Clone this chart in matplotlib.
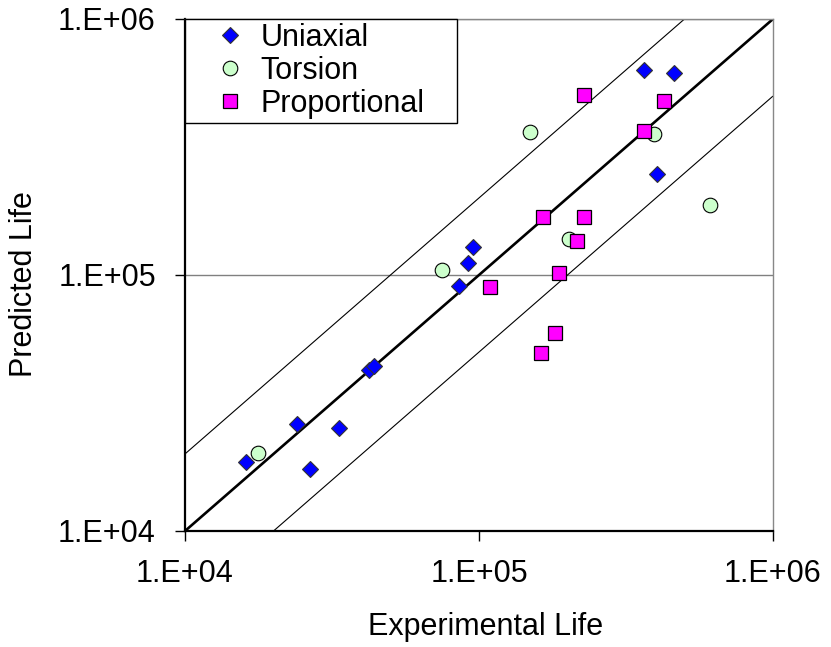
import matplotlib
matplotlib.use("Agg")
import matplotlib.pyplot as plt
from matplotlib.ticker import FixedLocator, FuncFormatter, NullLocator
from matplotlib.patches import Rectangle
import numpy as np

plt.rcParams['font.family'] = ['Liberation Sans', 'DejaVu Sans']

# ---- data ----
uni_exp = [1.61e4, 2.40e4, 2.66e4, 3.34e4, 4.22e4, 4.39e4, 8.55e4, 9.18e4, 9.54e4, 3.64e5, 4.61e5, 4.03e5]
uni_pred = [1.86e4, 2.62e4, 1.75e4, 2.53e4, 4.26e4, 4.41e4, 9.06e4, 1.11e5, 1.29e5, 6.32e5, 6.15e5, 2.48e5]

tor_exp = [1.77e4, 7.48e4, 1.49e5, 2.02e5, 3.94e5, 6.10e5]
tor_pred = [2.02e4, 1.05e5, 3.62e5, 1.38e5, 3.56e5, 1.88e5]

pro_exp = [1.09e5, 1.65e5, 2.28e5, 2.15e5, 1.87e5, 1.81e5, 1.63e5, 2.28e5, 4.26e5, 3.64e5]
pro_pred = [8.98e4, 1.69e5, 1.69e5, 1.36e5, 1.02e5, 5.94e4, 4.96e4, 5.05e5, 4.78e5, 3.65e5]

series_labels = ["Uniaxial", "Torsion", "Proportional"]
band_factors = [0.5, 1.0, 2.0]
axis_limits = [1e4, 1e6]
tick_values = [1e4, 1e5, 1e6]
tick_labels = ["1.E+04", "1.E+05", "1.E+06"]

FS = 22

fig = plt.figure(figsize=(8.31, 6.47), dpi=100)
ax = fig.add_axes([185/831, 1-531/647, (773-185)/831, (531-19)/647])
ax.set_xscale('log')
ax.set_yscale('log')
ax.set_xlim(axis_limits)
ax.set_ylim(axis_limits)

# horizontal gridline
ax.yaxis.grid(True, color='#808080', linewidth=1.0, zorder=0)
ax.set_axisbelow(True)

# scatter band lines
xl = np.array(axis_limits)
for f in band_factors:
    lw = 1.9 if f == 1.0 else 0.8
    ax.plot(xl, xl * f, color='black', linewidth=lw, zorder=2, solid_capstyle='butt')

ax.plot(uni_exp, uni_pred, linestyle='none', marker='D', markersize=8,
        markerfacecolor='#0000FF', markeredgecolor='#333333', markeredgewidth=0.8,
        label=series_labels[0], zorder=3)
ax.plot(tor_exp, tor_pred, linestyle='none', marker='o', markersize=10.5,
        markerfacecolor='#CCFFCC', markeredgecolor='black', markeredgewidth=0.8,
        label=series_labels[1], zorder=3)
ax.plot(pro_exp, pro_pred, linestyle='none', marker='s', markersize=10,
        markerfacecolor='#FF00FF', markeredgecolor='black', markeredgewidth=0.9,
        label=series_labels[2], zorder=3)

# ticks
fmt = FuncFormatter(lambda v, p: tick_labels[tick_values.index(v)] if v in tick_values else "")
for axis in (ax.xaxis, ax.yaxis):
    axis.set_major_locator(FixedLocator(tick_values))
    axis.set_minor_locator(NullLocator())
    axis.set_major_formatter(fmt)
ax.tick_params(axis='both', which='major', direction='out', length=7, width=1.0,
               labelsize=FS, color='black')
ax.tick_params(axis='x', pad=13)
ax.tick_params(axis='y', pad=14)

# spines
for s in ('left', 'bottom'):
    ax.spines[s].set_linewidth(1.6)
    ax.spines[s].set_color('black')
for s in ('top', 'right'):
    ax.spines[s].set_linewidth(1.0)
    ax.spines[s].set_color('#888888')

ax.set_xlabel("Experimental Life", fontsize=FS)
ax.set_ylabel("Predicted Life", fontsize=FS)
ax.xaxis.set_label_coords(0.512, -0.158)
ax.yaxis.set_label_coords(-0.248, 0.482)

# legend box
ax.add_patch(Rectangle((0, 1 - 104/512), 272/588, 104/512, transform=ax.transAxes,
                       facecolor='white', edgecolor='black', linewidth=1.0, zorder=4,
                       clip_on=False))
leg = ax.legend(loc='upper left', bbox_to_anchor=(30/588, 1 - 4/512), frameon=False,
                fontsize=FS, borderpad=0.0, borderaxespad=0.0, handlelength=1.0,
                handletextpad=0.5, labelspacing=0.1, numpoints=1)
leg.set_zorder(5)

fig.savefig("out.png", dpi=100)
